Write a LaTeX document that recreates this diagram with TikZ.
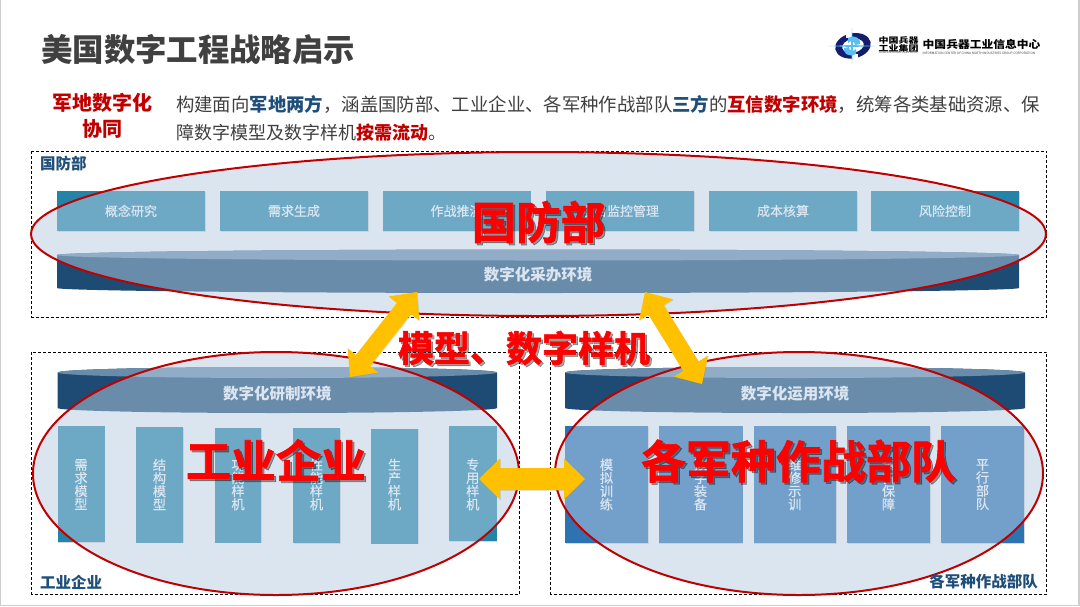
\documentclass[tikz,border=0pt]{standalone}
\usepackage{fontspec}
\setmainfont{Noto Sans CJK SC}
\newfontfamily\heavyfont[FakeBold=1.6]{Noto Sans CJK SC Bold}
\newfontfamily\medfont[FakeBold=0.5]{Noto Sans CJK SC}
\usetikzlibrary{calc,shadows}
\definecolor{ink}{RGB}{64,64,64}
\definecolor{navyb}{RGB}{31,78,121}
\definecolor{darkred}{RGB}{192,0,0}
\definecolor{teal}{RGB}{36,132,168}
\definecolor{midblue}{RGB}{45,115,178}
\definecolor{navybody}{RGB}{30,75,115}
\definecolor{cyltop}{RGB}{105,140,170}
\definecolor{veil}{RGB}{183,205,227}
\definecolor{gold}{RGB}{255,192,0}
\definecolor{bigred}{RGB}{255,0,0}
\definecolor{edge}{RGB}{205,205,205}
\definecolor{logoblue}{RGB}{20,30,110}
\definecolor{logosky}{RGB}{90,190,240}
\tikzset{
  x=1pt,y=-1pt,
  frame/.style={draw=black,line width=.8pt,dash pattern=on 3pt off 2pt},
  tbox/.style={fill=teal,drop shadow={shadow xshift=.6pt,shadow yshift=-.8pt,opacity=.3}},
  mbox/.style={fill=midblue,drop shadow={shadow xshift=.6pt,shadow yshift=-.8pt,opacity=.3}},
  boxtext/.style={text=white,font=\fontsize{13}{13}\selectfont\medfont,inner sep=0pt},
  vtext/.style={text=white,font=\fontsize{13.2}{13.2}\selectfont\medfont,inner sep=0pt,align=center},
  envtext/.style={text=white,font=\fontsize{15.5}{15.5}\selectfont\bfseries,inner sep=0pt},
  veilell/.style={fill=veil,fill opacity=.5,draw=darkred,draw opacity=1,line width=2pt},
  big/.style={text=bigred,inner sep=0pt},
  bigshadow/.style={text=black,text opacity=.35,inner sep=0pt},
  corner/.style={text=navyb,font=\fontsize{15.5}{15.5}\selectfont\bfseries,inner sep=0pt},
  goldarrow/.style={fill=gold,drop shadow={shadow xshift=.8pt,shadow yshift=-.8pt,opacity=.2}},
}
\newcommand{\cylbody}[6]{% left,right,topy,boty,name,label
  \fill[navybody] (#1,#3) arc[start angle=180,end angle=360,x radius={(#2-#1)/2},y radius=5.5] -- (#2,#4) arc[start angle=0,end angle=180,x radius={(#2-#1)/2},y radius=5] -- cycle;
  \fill[cyltop] ({(#1+#2)/2},#3) ellipse[x radius={(#2-#1)/2},y radius=5.5];
  \node[envtext] (#5) at ({(#1+#2)/2},{(#3+#4)/2+3}) {#6};
}
\newcommand{\vbar}[7]{% style,l,r,t,b,name,text
  \fill[#1] (#2,#4) rectangle (#3,#5);
  \node[vtext] (#6) at ({(#2+#3)/2},484.5) {#7};
}
\newcommand{\topbar}[3]{%
  \fill[tbox] (#1,191) rectangle ({#1+148},231);
  \node[boxtext] (#2) at ({#1+74},211) {#3};
}
\newcommand{\dblarr}[4]{% a,b,head half-width,shaft half-width
  \coordinate (pa) at ($(#1)!21pt!(#2)$);
  \coordinate (pb) at ($(#2)!21pt!(#1)$);
  \fill[goldarrow] (#1) -- ($(pa)!#3!90:(#2)$) -- ($(pa)!#4!90:(#2)$) -- ($(pb)!#4!-90:(#1)$) -- ($(pb)!#3!-90:(#1)$) -- (#2) -- ($(pb)!#3!90:(#1)$) -- ($(pb)!#4!90:(#1)$) -- ($(pa)!#4!-90:(#2)$) -- ($(pa)!#3!-90:(#2)$) -- cycle;
}
\newcommand{\bigtext}[4]{% x,y,size,text
  \node[bigshadow,font=\fontsize{#3}{#3}\selectfont\heavyfont] at ({#1+2},{#2+2}) {#4};
  \node[big,font=\fontsize{#3}{#3}\selectfont\heavyfont] at (#1,#2) {#4};
}
\begin{document}
\begin{tikzpicture}
\useasboundingbox (0,0) rectangle (1080,606);
\fill[white] (0,0) rectangle (1080,606);
% slide edge
\fill[edge] (0,0) rectangle (1,606);
\fill[edge] (1078,0) rectangle (1080,606);
\fill[edge] (0,604.5) rectangle (1080,606);
% title
\node[anchor=west,inner sep=0pt,text=ink,font=\fontsize{31.4}{31.4}\selectfont\bfseries] (title) at (41,50) {美国数字工程战略启示};
% logo
\begin{scope}[shift={(852,46)}]
  \begin{scope}[rotate=12]
    \fill[logoblue,even odd rule] (1,0) ellipse[x radius=18,y radius=12.5] (1,0) ellipse[x radius=11,y radius=7];
  \end{scope}
  \fill[white] (-6,-14) rectangle (0,-8);
  \fill[white] (0,8) rectangle (6,14);
  \fill[logosky] (-4,-8) .. controls (4,-12) and (9,-7) .. (8,-2) -- (3,-1) .. controls (3,-5) and (-1,-6) .. (-4,-3) -- cycle;
  \fill[logosky] (4,8) .. controls (-4,12) and (-9,7) .. (-8,2) -- (-3,1) .. controls (-3,5) and (1,6) .. (4,3) -- cycle;
  \fill[logosky] (0,-18) -- (1,-1) -- (23,0) -- (1,1) -- (0,18) -- (-1,1) -- (-23,0) -- (-1,-1) -- cycle;
\end{scope}
\node[transform shape,xscale=1.25,anchor=center,inner sep=0pt,text=black,align=center,font=\fontsize{8}{7.8}\selectfont\bfseries] (logoa) at (898.5,44.5) {中国兵器\\工业集团};
\node[anchor=center,inner sep=0pt,text=black!75,font=\fontsize{2.44}{2.5}\selectfont] (logod) at (898.5,53) {CHINA NORTH INDUSTRIES GROUP};
\node[transform shape,xscale=1.11,anchor=west,inner sep=0pt,text=black,font=\fontsize{10.6}{10.6}\selectfont\bfseries] (logob) at (922.5,44) {中国兵器工业信息中心};
\node[anchor=west,inner sep=0pt,text=black!75,font=\fontsize{3.15}{3.2}\selectfont] (logoc) at (922.5,53.5) {INFORMATION CENTER OF CHINA NORTH INDUSTRIES GROUP CORPORATION};
% intro
\node[inner sep=0pt,text=darkred,align=center,font=\fontsize{20}{26}\selectfont\bfseries] (head) at (102.5,116) {军地数字化\\协同};
\node[anchor=west,inner sep=0pt,text=ink,font=\fontsize{18.38}{18.38}\selectfont] (lineone) at (176,104) {构建面向\textcolor{navyb}{\bfseries 军地两方}，涵盖国防部、工业企业、各军种作战部队\textcolor{navyb}{\bfseries 三方}的\textcolor{darkred}{\bfseries 互信数字环境}，统筹各类基础资源、保};
\node[anchor=west,inner sep=0pt,text=ink,font=\fontsize{18}{18}\selectfont] (linetwo) at (176,133) {障数字模型及数字样机\textcolor{darkred}{\bfseries 按需流动}。};
% frames
\draw[frame] (31.5,151) rectangle (1046.5,317);
\draw[frame] (31.5,352) rectangle (519,594);
\draw[frame] (550.5,352) rectangle (1046.5,594);
% top group
\topbar{57}{ta}{概念研究}
\topbar{220}{tb}{需求生成}
\topbar{382.5}{tc}{作战推演}
\topbar{546}{td}{项目监控管理}
\topbar{709}{te}{成本核算}
\topbar{871}{tf}{风险控制}
\cylbody{57}{1019}{255}{288}{envtop}{数字化采办环境}
% left group
\cylbody{57.5}{497}{372.5}{408}{envleft}{数字化研制环境}
\vbar{tbox}{57.5}{104.5}{426}{542}{la}{需\\求\\模\\型}
\vbar{tbox}{136}{183}{427}{542.5}{lb}{结\\构\\模\\型}
\vbar{tbox}{215}{261}{427.5}{542.5}{lc}{功\\能\\样\\机}
\vbar{tbox}{293}{340}{428}{543}{ld}{性\\能\\样\\机}
\vbar{tbox}{371}{418}{428.5}{543.5}{le}{生\\产\\样\\机}
\vbar{tbox}{449}{496.5}{426}{541}{lf}{专\\用\\样\\机}
% right group
\cylbody{565}{1025}{372.5}{408}{envright}{数字化运用环境}
\vbar{mbox}{565}{648}{426}{543}{ra}{模\\拟\\训\\练}
\vbar{mbox}{658.5}{742.5}{426}{543}{rb}{数\\字\\装\\备}
\vbar{mbox}{753.5}{836}{426}{543}{rc}{维\\修\\示\\训}
\vbar{mbox}{847}{930}{426}{543}{rd}{装\\备\\保\\障}
\vbar{mbox}{941}{1024}{426}{543}{re}{平\\行\\部\\队}
% veils
\draw[veilell] (538.5,234) ellipse[x radius=507.5,y radius=82];
\draw[veilell] (276,473.5) ellipse[x radius=243,y radius=121.5];
\draw[veilell] (799,473.5) ellipse[x radius=244,y radius=121.5];
% corner labels
\node[corner,anchor=west] (cornera) at (40,164) {国防部};
\node[corner,anchor=west] (cornerb) at (40,582) {工业企业};
\node[corner,anchor=east] (cornerc) at (1038,582) {各军种作战部队};
% arrows
\coordinate (aa) at (350,377);
\coordinate (ab) at (417,292);
\coordinate (ba) at (645,292);
\coordinate (bb) at (702,384);
\coordinate (ca) at (479,479);
\coordinate (cb) at (585,479);
\dblarr{aa}{ab}{19.5pt}{9pt}
\dblarr{ba}{bb}{20pt}{9pt}
\dblarr{ca}{cb}{20.5pt}{11pt}
% big labels
\bigtext{538.5}{222}{44.5}{国防部}
\bigtext{276}{460}{45}{工业企业}
\bigtext{798.5}{461}{45}{各军种作战部队}
\bigtext{524}{348}{36}{模型、数字样机}
\end{tikzpicture}
\end{document}
